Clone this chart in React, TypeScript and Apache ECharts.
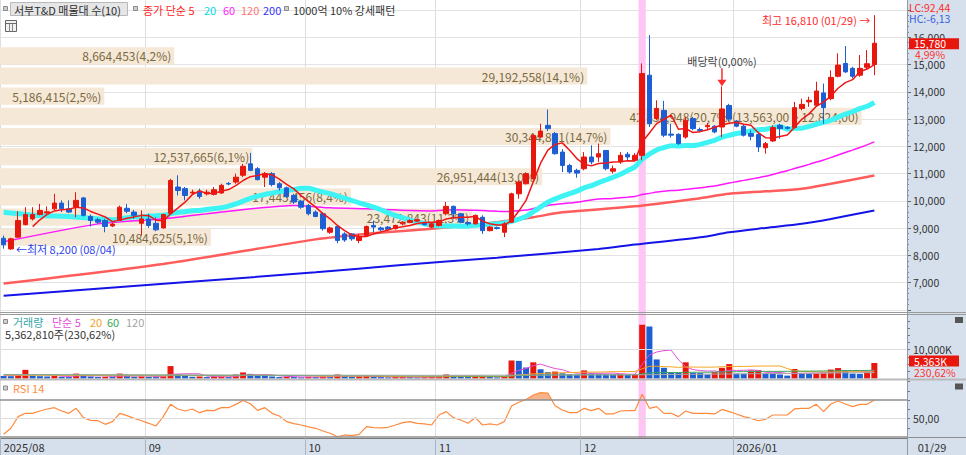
import React, { useEffect, useRef } from 'react';
import * as echarts from 'echarts';

const FONT = '"Noto Sans CJK KR", "Noto Sans", sans-serif';
const RED = '#e8170e';
const BLUE = '#1d5fd2';

// trading days per month
const monthDays: [string, number[]][] = [
  ['2025/08', [1, 4, 5, 6, 7, 8, 11, 12, 13, 14, 18, 19, 20, 21, 22, 25, 26, 27, 28, 29]],
  ['2025/09', [1, 2, 3, 4, 5, 8, 9, 10, 11, 12, 15, 16, 17, 18, 19, 22, 23, 24, 25, 26, 29, 30]],
  ['2025/10', [1, 2, 10, 13, 14, 15, 16, 17, 20, 21, 22, 23, 24, 27, 28, 29, 30, 31]],
  ['2025/11', [3, 4, 5, 6, 7, 10, 11, 12, 13, 14, 17, 18, 19, 20, 21, 24, 25, 26, 27, 28]],
  ['2025/12', [1, 2, 3, 4, 5, 8, 9, 10, 11, 12, 15, 16, 17, 18, 19, 22, 23, 24, 26, 29, 30]],
  ['2026/01', [2, 5, 6, 7, 8, 9, 12, 13, 14, 15, 16, 19, 20, 21, 22, 23, 26, 27, 28, 29]],
];

const opens = [
  8630, 8240, 8670, 9130, 9340, 9500, 9560, 9710, 9920, 9710,
  9770, 10110, 9430, 9310, 9280, 9080, 9280, 9730, 9590, 9180,
  9340, 9180, 9010, 9550, 10510, 10450, 10290, 10360, 10260, 10240,
  10290, 10640, 10690, 10940, 11360, 11180, 10870, 11000, 10630, 10480,
  10200, 9990, 9830, 9590, 9530, 8850, 9060, 8790, 8790, 8550,
  8730, 9100, 9010, 9040, 8980, 9160, 9210, 9260, 9180, 9040,
  9100, 9530, 9800, 9530, 9210, 9160, 9400, 8910, 9020, 8850,
  9220, 10260, 10630, 10810, 12340, 12770, 12470, 11790, 11300, 11120,
  11180, 11610, 11610, 11850, 11090, 11430, 11710, 11490, 11670, 14610,
  13020, 13320, 12450, 12440, 12340, 13020, 12620, 12720, 12740, 12710,
  13500, 12930, 12740, 12470, 12440, 11950, 12200, 12770, 12700, 12690,
  13390, 13630, 13510, 13960, 13750, 14570, 15040, 14860, 14610, 14900,
  15000,
];
const closes = [
  8390, 8610, 9280, 9500, 9500, 9650, 9600, 9920, 9710, 9590,
  10020, 9470, 9280, 9220, 9060, 9150, 9770, 9620, 9470, 9340,
  9100, 8940, 9500, 10750, 10380, 10200, 10320, 10160, 10320, 10410,
  10570, 10620, 10870, 11270, 11120, 10780, 11000, 10600, 10480, 10160,
  9960, 9770, 9530, 9430, 8980, 9010, 8550, 8570, 8610, 8670,
  9060, 9040, 8940, 8960, 9100, 9220, 9280, 9310, 9130, 9160,
  9280, 9800, 9530, 9220, 9160, 9470, 8910, 9040, 8990, 9160,
  10260, 10690, 11000, 12400, 12560, 12650, 11730, 11300, 11060, 11020,
  11610, 11430, 11730, 11180, 11180, 11670, 11610, 11670, 14670, 12830,
  13390, 12410, 12410, 12100, 12960, 12650, 12580, 12770, 12530, 13370,
  13000, 12740, 12410, 12370, 11980, 12100, 12690, 12650, 12660, 13420,
  13540, 13690, 14030, 13420, 14530, 14980, 14730, 14570, 14860, 15030,
  15780,
];
const lows = [
  8250, 8200, 8650, 9100, 9280, 9470, 9530, 9650, 9590, 9550,
  9400, 9430, 9060, 9160, 8850, 9040, 9260, 9550, 9340, 8730,
  9010, 8890, 8980, 9530, 10200, 10020, 10240, 10080, 10200, 10200,
  10260, 10570, 10630, 10870, 11090, 10750, 10510, 10530, 10380, 10110,
  9890, 9710, 9470, 9400, 8910, 8790, 8450, 8500, 8540, 8450,
  8700, 8850, 8900, 8910, 8950, 9100, 9180, 9230, 9100, 9000,
  9060, 9470, 9340, 9180, 9100, 9130, 8790, 8880, 8950, 8670,
  9200, 10080, 10600, 10780, 12300, 12560, 11700, 11060, 11000, 10850,
  11120, 11340, 11430, 11120, 11000, 11360, 11490, 11450, 11490, 12710,
  12960, 12340, 12320, 12060, 12280, 12590, 12540, 12590, 12480, 12340,
  12900, 12700, 12360, 12220, 11790, 11730, 12160, 12280, 12620, 12650,
  13320, 13450, 13450, 12830, 13690, 14530, 14700, 14490, 14550, 14800,
  14610,
];
const highs = [
  8730, 8650, 9620, 9770, 9770, 9890, 9800, 10260, 10020, 10020,
  10320, 10140, 9500, 9380, 9340, 9200, 9830, 9890, 9670, 9650,
  9530, 9400, 9530, 10810, 10940, 10510, 10410, 10450, 10410, 10510,
  10630, 10690, 11000, 11360, 11760, 11240, 11060, 11060, 10690, 10530,
  10260, 10040, 9890, 9650, 9590, 9060, 9100, 8850, 8820, 8790,
  9100, 9280, 9060, 9080, 9130, 9260, 9330, 9350, 9230, 9200,
  9320, 9960, 9830, 9560, 9250, 9500, 9470, 9080, 9060, 9220,
  10300, 10750, 11050, 12450, 12830, 13350, 12530, 11900, 11360, 11180,
  11790, 12040, 12100, 11860, 11300, 11790, 11790, 11750, 15040, 16080,
  13690, 13670, 12830, 12480, 13080, 13080, 12690, 12860, 12780, 14200,
  13560, 12960, 12780, 12590, 12530, 12160, 12770, 12830, 12740, 13630,
  13750, 13820, 14370, 14300, 14790, 15410, 15680, 14920, 15350, 15530,
  16810,
];
// volume in thousands of shares
const volumesK = [
  900, 800, 1300, 3000, 1000, 800, 700, 900, 600, 500,
  1700, 1100, 700, 500, 600, 500, 1700, 900, 600, 700,
  600, 500, 800, 4300, 1500, 1000, 600, 700, 500, 600,
  700, 500, 1400, 2100, 1600, 1000, 900, 700, 500, 600,
  500, 400, 600, 500, 700, 600, 1400, 800, 600, 700,
  800, 600, 500, 400, 500, 600, 500, 400, 500, 600,
  700, 1400, 900, 700, 500, 800, 900, 600, 400, 700,
  6200, 6100, 3800, 5600, 3200, 2200, 2400, 1800, 1500, 1300,
  2800, 1800, 1700, 1600, 1500, 1600, 1200, 1400, 18600, 18000,
  6600, 3700, 2200, 2000, 5600, 2000, 1900, 1400, 2200, 3700,
  5000, 1700, 1600, 2800, 2900, 1700, 1600, 1400, 1000, 3300,
  1700, 1600, 1700, 1800, 3100, 3600, 2800, 1700, 1600, 2325,
  5363,
];
const rsi14 = [
  32.9, 39.4, 52.0, 55.6, 55.6, 58.1, 60.3, 61.7, 58.1, 55.6,
  61.0, 50.9, 48.0, 47.6, 43.7, 46.6, 55.6, 53.1, 50.2, 47.6,
  44.8, 41.9, 52.0, 65.3, 60.3, 58.1, 60.3, 56.3, 58.8, 58.5,
  61.7, 61.7, 65.3, 69.5, 66.0, 58.8, 61.7, 55.6, 52.7, 46.6,
  44.4, 43.0, 41.0, 39.4, 36.5, 34.0, 30.2, 32.2, 31.5, 32.9,
  41.2, 40.1, 39.8, 40.5, 43.0, 45.5, 46.6, 44.8, 44.1, 43.0,
  53.8, 57.4, 50.9, 48.4, 44.8, 50.9, 43.0, 44.1, 43.0, 46.6,
  63.5, 67.5, 70.5, 75.4, 77.9, 77.5, 63.8, 59.2, 56.3, 56.3,
  61.0, 58.5, 61.0, 54.9, 54.9, 58.1, 58.5, 58.5, 76.1, 61.0,
  62.8, 55.6, 55.6, 52.0, 58.1, 55.6, 55.6, 55.6, 54.9, 59.8,
  57.4, 54.9, 52.0, 50.2, 47.6, 49.1, 53.8, 53.8, 53.8, 60.3,
  61.0, 61.0, 65.3, 57.4, 65.7, 68.9, 65.7, 62.8, 65.3, 65.3,
  70.0,
];

const ma20Head: [number, number][] = [[0, 9585], [5, 9463], [9, 9427], [13, 9342], [15, 9305], [18, 9420]];
const ma60Head: [number, number][] = [[0, 8500], [13, 9158], [22, 9342], [31, 9623], [40, 9832], [45, 9746], [50, 9709]];
const ma120Pts: [number, number][] = [
  [0, 6975], [22, 7690], [43, 8590], [50, 8790], [59, 8975], [68, 9220], [73, 9400], [77, 9585],
  [87, 9800], [96, 10100], [100, 10260], [105, 10350], [110, 10445], [114, 10630], [120, 10935],
];
const ma200Pts: [number, number][] = [
  [0, 6520], [43, 7380], [54, 7630], [68, 7920], [82, 8240], [87, 8400], [96, 8665],
  [100, 8850], [105, 9010], [110, 9160], [114, 9340], [120, 9650],
];
const volMa5Head: [number, number][] = [[0, 950], [3, 1200]];
const volMa20Head: [number, number][] = [[0, 1150], [10, 1050], [18, 950]];
const volMa60Head: [number, number][] = [[0, 1400], [30, 1100], [58, 900]];
const volMa120Pts: [number, number][] = [[0, 1300], [60, 1100], [88, 1300], [120, 2050]];

// volume profile (10 bands, bottom to top)
const profileEdges = [8390, 9129, 9868, 10607, 11346, 12085, 12824, 13563, 14302, 15041, 15780];
const profileVolumes = [10484625, 23472843, 17445456, 26951444, 12537665, 30344801, 42834948, 5186415, 29192558, 8664453];

const strongPatternDates = ['2025/12/11'];
const dividendDate = '2025/12/29';
const lastVolumeShares = 5362810;
const lastVolumeRatio = '230,62';

// ---- derived ----
const dates: string[] = [];
const monthStart = new Set<number>();
const monthLabels: Record<number, string> = {};
monthDays.forEach(([ym, days], m) => {
  monthStart.add(dates.length);
  monthLabels[dates.length] = m === 0 || ym.endsWith('/01') ? ym : ym.slice(5);
  days.forEach((d) => dates.push(`${ym}/${String(d).padStart(2, '0')}`));
});
const cats = [...dates, 'p1', 'p2', 'p3', 'p4'];

function sma(values: number[], n: number): [number, number][] {
  const out: [number, number][] = [];
  let sum = 0;
  values.forEach((v, i) => {
    sum += v;
    if (i >= n) sum -= values[i - n];
    if (i >= n - 1) out.push([i, sum / n]);
  });
  return out;
}

const fmtInt = (v: number) => Math.round(v).toLocaleString('en-US');
const fmtDec = (v: number, d: number) => v.toFixed(d).replace('.', ',');

const profileTotal = profileVolumes.reduce((a, b) => a + b, 0);
const profileMax = Math.max(...profileVolumes);
const profileLabel = (k: number) => {
  const v = profileVolumes[k];
  let s = `${fmtInt(v)}(${fmtDec((v / profileTotal) * 100, 1)}%)`;
  if (v === profileMax) s += `(${fmtInt(profileEdges[k + 1])},00 ~ ${fmtInt(profileEdges[k])},00)`;
  return s;
};

function txt(x: number, y: number, t: string, fill: string, size = 11, align = 'left'): any {
  return {
    type: 'text', x, y, z: 100, silent: true,
    style: { text: t, fill, font: `${size}px ${FONT}`, align, textAlign: align, verticalAlign: 'middle', textVerticalAlign: 'middle' },
  };
}
function icon(x: number, y: number): any {
  return { type: 'rect', z: 100, silent: true, shape: { x: x + 0.5, y: y + 0.5, width: 4, height: 4 }, style: { fill: '#cfcfcf', stroke: '#8a8a8a', lineWidth: 1 } };
}
function hline(y: number, color: string, x1 = 0, x2 = 966): any {
  return { type: 'line', z: 90, silent: true, shape: { x1, y1: y, x2, y2: y }, style: { stroke: color, lineWidth: 1 } };
}

function buildOption(): any {
  const xBase = (gridIndex: number) => ({ type: 'category', gridIndex, data: cats, boundaryGap: true, show: false });
  const lineS = (name: string, data: any, color: string, width: number, z: number, xi = 0, smooth: any = false) => ({
    name, type: 'line', xAxisIndex: xi, yAxisIndex: xi, data, symbol: 'none', showSymbol: false, smooth, z, silent: true,
    lineStyle: { color, width }, itemStyle: { color },
  });
  return {
    animation: false,
    grid: [
      { left: 0, top: 10, width: 907, height: 300 },
      { left: 0, top: 321, width: 907, height: 57.5 },
      { left: 0, top: 381.5, width: 907, height: 55.5 },
      { left: 0, top: 381.5, width: 907, height: 18.5 },
      { left: 0, top: 0, width: 907, height: 438 },
    ],
    xAxis: [
      xBase(0), xBase(1), xBase(2), xBase(3),
      {
        type: 'category', gridIndex: 4, data: cats, boundaryGap: true, position: 'bottom',
        axisLine: { show: true, lineStyle: { color: '#7a7a7a', width: 1 } },
        axisTick: { show: true, interval: (i: number) => monthStart.has(i), length: 17, lineStyle: { color: '#a7b4c2' } },
        axisLabel: {
          show: true, interval: (i: number) => monthStart.has(i), formatter: (_v: string, i: number) => monthLabels[i] ?? '',
          align: 'left', margin: 3, color: '#333', fontSize: 11, fontFamily: FONT,
        },
        splitLine: { show: true, interval: (i: number) => monthStart.has(i), lineStyle: { color: '#dedede', width: 1 } },
      },
    ],
    yAxis: [
      {
        type: 'value', gridIndex: 0, position: 'right', min: 6000, max: 17000, interval: 1000,
        axisLine: { show: true, lineStyle: { color: '#8c99a8' } },
        axisTick: { show: true, length: 4, lineStyle: { color: '#666' } },
        minorTick: { show: true, splitNumber: 5, length: 2, lineStyle: { color: '#888' } },
        axisLabel: {
          margin: 6, color: '#333', fontSize: 10.5, fontFamily: FONT,
          formatter: (v: number) => (v === 6000 || v === 17000 ? '' : fmtInt(v)),
        },
        splitLine: { show: true, lineStyle: { color: '#e3e3e3' } },
      },
      {
        type: 'value', gridIndex: 1, position: 'right', min: 0, max: 19900, interval: 2500,
        axisLine: { show: true, lineStyle: { color: '#8c99a8' } },
        axisTick: { show: true, length: 3, lineStyle: { color: '#777' } },
        axisLabel: { margin: 6, color: '#333', fontSize: 10.5, fontFamily: FONT, formatter: (v: number) => (v === 10000 ? '10,000K' : '') },
        splitLine: { show: false },
      },
      {
        type: 'value', gridIndex: 2, position: 'right', min: 30, max: 90, interval: 10,
        axisLine: { show: true, lineStyle: { color: '#8c99a8' } },
        axisTick: { show: true, length: 3, lineStyle: { color: '#777' } },
        axisLabel: { margin: 6, color: '#333', fontSize: 10.5, fontFamily: FONT, formatter: (v: number) => (v === 50 ? '50,00' : '') },
        splitLine: { show: false },
      },
      { type: 'value', gridIndex: 3, min: 70, max: 90, show: false },
      { type: 'value', gridIndex: 4, min: 0, max: 1, show: false },
    ],
    series: [
      {
        type: 'custom', xAxisIndex: 0, yAxisIndex: 0, z: 1, silent: true,
        data: profileVolumes.map((v, k) => [0, profileEdges[k], profileEdges[k + 1], v]),
        encode: { x: 0, y: [1, 2] },
        renderItem: (params: any, api: any) => {
          const k = params.dataIndex;
          const cs = params.coordSys;
          const yTop = api.coord([0, api.value(2)])[1] + 4;
          const yBot = api.coord([0, api.value(1)])[1] + 1;
          const w = (api.value(3) / profileMax) * cs.width * 0.95;
          return {
            type: 'group',
            children: [
              { type: 'rect', shape: { x: cs.x, y: yTop, width: w, height: yBot - yTop }, style: { fill: '#f5e8d6' } },
              {
                type: 'text', x: cs.x + w - 3, y: (yTop + yBot) / 2,
                style: { text: profileLabel(k), fill: '#7b6942', font: `12px ${FONT}`, align: 'right', textAlign: 'right', verticalAlign: 'middle', textVerticalAlign: 'middle' },
              },
            ],
          };
        },
      },
      {
        type: 'bar', xAxisIndex: 4, yAxisIndex: 4, z: 2, silent: true, barWidth: '100%',
        data: cats.map((d) => (strongPatternDates.includes(d) ? 1 : null)),
        itemStyle: { color: '#ffc6f3' },
      },
      lineS('MA120', ma120Pts, '#ff5c5c', 2.5, 3, 0, 0.3),
      lineS('MA200', ma200Pts, '#1414e8', 2, 3, 0, 0.3),
      lineS('MA60', [...ma60Head, ...sma(closes, 60)], '#ff16ff', 1.5, 3, 0, 0.2),
      lineS('MA20', [...ma20Head, ...sma(closes, 20)], '#3ef3f3', 5, 3, 0, 0.2),
      {
        type: 'candlestick', xAxisIndex: 0, yAxisIndex: 0, z: 4, silent: true, barWidth: 5,
        data: opens.map((o, i) => [o, closes[i], lows[i], highs[i]]),
        itemStyle: { color: RED, color0: BLUE, borderColor: RED, borderColor0: BLUE, borderWidth: 1 },
      },
      lineS('MA5', sma(closes, 5), '#f01616', 1.5, 5, 0),
      {
        type: 'bar', xAxisIndex: 1, yAxisIndex: 1, z: 3, silent: true, barWidth: 6,
        data: volumesK.map((v, i) => ({ value: v, itemStyle: { color: i > 0 && v > volumesK[i - 1] ? RED : BLUE } })),
        markLine: {
          silent: true, symbol: 'none', label: { show: false },
          lineStyle: { color: '#dedede', type: 'solid', width: 1 },
          data: [{ yAxis: 10000 }],
        },
      },
      lineS('VMA5', [...volMa5Head, ...sma(volumesK, 5)], '#e24ed6', 1, 4, 1),
      lineS('VMA20', [...volMa20Head, ...sma(volumesK, 20)], '#f5a623', 1, 4, 1),
      lineS('VMA60', [...volMa60Head, ...sma(volumesK, 60)], '#3aa55a', 1, 4, 1),
      lineS('VMA120', volMa120Pts, '#a8a8a8', 1, 4, 1),
      {
        type: 'line', xAxisIndex: 3, yAxisIndex: 3, z: 2, silent: true, symbol: 'none', data: rsi14,
        lineStyle: { width: 0, opacity: 0 }, areaStyle: { color: '#f5b48a', opacity: 1, origin: 'start' },
      },
      {
        type: 'line', xAxisIndex: 2, yAxisIndex: 2, z: 3, silent: true, symbol: 'none', data: rsi14,
        lineStyle: { color: '#ff8a3d', width: 1.2 },
        markLine: {
          silent: true, symbol: 'none', label: { show: false },
          data: [
            { yAxis: 70, lineStyle: { color: '#8e8e8e', width: 1.5, type: 'solid' } },
            { yAxis: 50, lineStyle: { color: '#dcdcdc', width: 1, type: 'solid' } },
            { yAxis: 30, lineStyle: { color: '#8e8e8e', width: 1.5, type: 'solid' } },
          ],
        },
      },
    ],
  };
}

function buildGraphics(chart: any): any[] {
  const last = closes.length - 1;
  const maxHigh = Math.max(...highs);
  const minLow = Math.min(...lows);
  const hi = highs.indexOf(maxHigh);
  const lo = lows.indexOf(minLow);
  const mmdd = (d: string) => d.slice(5);
  const hp = chart.convertToPixel({ gridIndex: 0 }, [hi, maxHigh]);
  const lp = chart.convertToPixel({ gridIndex: 0 }, [lo, minLow]);
  const di = dates.indexOf(dividendDate);
  const dp = chart.convertToPixel({ gridIndex: 0 }, [di, highs[di]]);
  const cp = chart.convertToPixel({ gridIndex: 0 }, [last, closes[last]]);
  const vp = chart.convertToPixel({ gridIndex: 1 }, [last, volumesK[last]]);
  const chg = (closes[last] / closes[last - 1] - 1) * 100;
  const lc = (closes[last] / minLow - 1) * 100;
  const hc = (closes[last] / maxHigh - 1) * 100;

  const g: any[] = [];
  // panel separators
  g.push(hline(312.5, '#9a9a9a'), hline(314.5, '#9a9a9a'));
  g.push({ type: 'rect', z: 90, silent: true, shape: { x: 0, y: 378.5, width: 966, height: 2 }, style: { fill: '#b9b9b9' } });
  g.push(hline(437.5, '#8e8e8e', 907, 966));
  g.push({ type: 'line', z: 90, silent: true, shape: { x1: 907.5, y1: 0, x2: 907.5, y2: 455 }, style: { stroke: '#8c99a8', lineWidth: 1 } });

  // main legend
  g.push(icon(3, 6));
  g.push({ type: 'rect', z: 99, silent: true, shape: { x: 10.5, y: 2.5, width: 117, height: 13 }, style: { fill: '#e6e6e6', stroke: '#b8b8b8', lineWidth: 1 } });
  g.push(txt(14, 9.5, '서부T&D 매물대 수(10)', '#2d2d2d'));
  g.push(icon(133, 6));
  g.push(txt(143, 9.5, '종가 단순 5', '#ff2222'));
  g.push(txt(204, 9.5, '20', '#00dde8'));
  g.push(txt(223, 9.5, '60', '#ff22ff'));
  g.push(txt(241, 9.5, '120', '#ff7373'));
  g.push(txt(263, 9.5, '200', '#3434ff'));
  g.push(icon(284, 6));
  g.push(txt(293, 9.5, '1000억 10% 강세패턴', '#333'));
  g.push({ type: 'rect', z: 100, silent: true, shape: { x: 5.5, y: 20.5, width: 11, height: 11 }, style: { fill: '#f0f0f0', stroke: '#666', lineWidth: 1 } });
  g.push({ type: 'line', z: 100, silent: true, shape: { x1: 5.5, y1: 23.5, x2: 16.5, y2: 23.5 }, style: { stroke: '#666', lineWidth: 1 } });
  g.push({ type: 'line', z: 100, silent: true, shape: { x1: 9.5, y1: 23.5, x2: 9.5, y2: 31.5 }, style: { stroke: '#888', lineWidth: 1 } });
  g.push({ type: 'line', z: 100, silent: true, shape: { x1: 12.5, y1: 23.5, x2: 12.5, y2: 31.5 }, style: { stroke: '#888', lineWidth: 1 } });

  // volume legend
  g.push(icon(3, 319));
  g.push(txt(13, 321.5, '거래량', '#36a6a6'));
  g.push(txt(52, 321.5, '단순 5', '#e34fd8'));
  g.push(txt(90, 321.5, '20', '#f3a21c'));
  g.push(txt(107, 321.5, '60', '#3aa55a'));
  g.push(txt(126, 321.5, '120', '#a3a3a3'));
  g.push(txt(5, 333.5, `${fmtInt(lastVolumeShares)}주(${lastVolumeRatio}%)`, '#333'));

  // RSI legend
  g.push(icon(3, 385.5));
  g.push(txt(13, 388, 'RSI 14', '#ff8a3d'));

  // right panel
  g.push(txt(909, 7, `LC:${fmtDec(lc, 2)}`, '#ff2a2a', 10.5));
  g.push(txt(909, 18.5, `HC:${fmtDec(hc, 2)}`, '#3560e0', 10.5));
  g.push({ type: 'rect', z: 100, silent: true, shape: { x: 955, y: 317, width: 8, height: 6 }, style: { fill: '#555' } });
  g.push({ type: 'rect', z: 100, silent: true, shape: { x: 955, y: 383.5, width: 8, height: 6 }, style: { fill: '#555' } });
  g.push(txt(932, 446.5, mmdd(dates[last]), '#333', 11, 'center'));

  // price tag
  g.push({ type: 'rect', z: 100, silent: true, shape: { x: 909, y: cp[1] - 5, width: 50, height: 11 }, style: { fill: RED } });
  g.push(txt(914, cp[1] + 0.5, fmtInt(closes[last]), '#ffffff', 10.5));
  g.push(txt(915, cp[1] + 11, `${fmtDec(chg, 2)}%`, '#ff3030', 10.5));
  // volume tag
  const vy = vp[1] - 2;
  g.push({ type: 'rect', z: 100, silent: true, shape: { x: 909, y: vy - 5.5, width: 50, height: 11 }, style: { fill: RED } });
  g.push(txt(914, vy, `${fmtInt(volumesK[last])}K`, '#ffffff', 10.5));
  g.push(txt(914, vy + 11, `${lastVolumeRatio}%`, '#ff3030', 10.5));

  // high / low annotations
  g.push(txt(hp[0] - 4, hp[1] + 5, `최고 ${fmtInt(maxHigh)} (${mmdd(dates[hi])}) →`, '#ff2a2a', 11, 'right'));
  g.push(txt(lp[0] + 5, lp[1] - 1, `←최저 ${fmtInt(minLow)} (${mmdd(dates[lo])})`, '#2b3df0'));

  // dividend marker
  const tipX = dp[0];
  const tipY = dp[1];
  g.push({ type: 'line', z: 100, silent: true, shape: { x1: tipX, y1: tipY - 18, x2: tipX, y2: tipY - 6 }, style: { stroke: '#ff2a2a', lineWidth: 1.5 } });
  g.push({ type: 'polygon', z: 100, silent: true, shape: { points: [[tipX - 4.5, tipY - 6.5], [tipX + 4.5, tipY - 6.5], [tipX, tipY]] }, style: { fill: '#ff2a2a' } });
  g.push(txt(tipX, tipY - 25, '배당락(0,00%)', '#444', 11, 'center'));
  return g;
}

export default function App() {
  const ref = useRef<HTMLDivElement>(null);
  useEffect(() => {
    const el = ref.current;
    if (!el) return;
    const chart = echarts.init(el, undefined, { renderer: 'svg' });
    chart.setOption(buildOption());
    chart.setOption({ graphic: buildGraphics(chart) });
    return () => chart.dispose();
  }, []);
  return (
    <div style={{ position: 'fixed', left: 0, top: 0, width: 966, height: 455, background: '#ffffff', overflow: 'hidden' }}>
      <div style={{ position: 'absolute', left: 907, top: 0, width: 59, height: 455, background: '#d6e0ec' }} />
      <div style={{ position: 'absolute', left: 0, top: 438, width: 907, height: 17, background: '#d6e0ec' }} />
      <div ref={ref} style={{ position: 'absolute', left: 0, top: 0, width: 966, height: 455 }} />
    </div>
  );
}
